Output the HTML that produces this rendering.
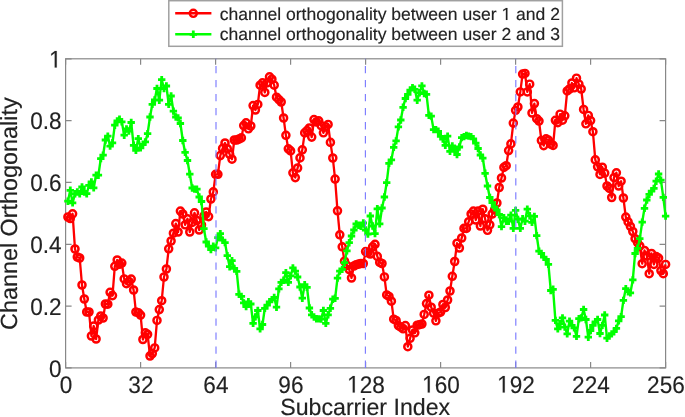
<!DOCTYPE html>
<html><head><meta charset="utf-8"><style>
html,body{margin:0;padding:0;background:#fff;}
svg{display:block;filter:blur(0.55px);}
text{font-family:'Liberation Sans',sans-serif;fill:#222;stroke:#222;stroke-width:0.15px;text-rendering:geometricPrecision;}
.one{fill:#222;stroke:#222;stroke-width:13;}
</style></head><body>
<svg width="685" height="417" viewBox="0 0 685 417">
<rect x="0" y="0" width="685" height="417" fill="#fff"/>

<rect x="65.6" y="58.8" width="600.0" height="309.09999999999997" fill="none" stroke="#888" stroke-width="1.2"/>
<path d="M65.6,367.9v-6M65.6,58.8v6M140.6,367.9v-6M140.6,58.8v6M215.6,367.9v-6M215.6,58.8v6M290.6,367.9v-6M290.6,58.8v6M365.6,367.9v-6M365.6,58.8v6M440.6,367.9v-6M440.6,58.8v6M515.6,367.9v-6M515.6,58.8v6M590.6,367.9v-6M590.6,58.8v6M665.6,367.9v-6M665.6,58.8v6M65.6,367.9h6M665.6,367.9h-6M65.6,306.1h6M665.6,306.1h-6M65.6,244.3h6M665.6,244.3h-6M65.6,182.4h6M665.6,182.4h-6M65.6,120.6h6M665.6,120.6h-6M65.6,58.8h6M665.6,58.8h-6" stroke="#888" stroke-width="1.2" fill="none"/>
<polyline points="67.9,217 70.3,218.5 72.6,213.8 75,249 77.3,257 79.7,258 82,285 84.3,299 86.7,312 89,312 91.4,336 93.7,326 96.1,339 98.4,320 100.8,316 103.1,318 105.4,304 107.8,304.2 110.1,292.3 112.5,295.6 114.8,266.3 117.2,260 119.5,264.3 121.8,263.1 124.2,278.9 126.5,283.7 128.9,281.4 131.2,279.1 133.6,290 135.9,312 138.3,312.7 140.6,315.1 142.9,339.5 145.3,332.8 147.6,334.3 150,356 152.3,353.5 154.7,347.9 157,320.4 159.3,309.6 161.7,300.7 164,277 166.4,269 168.7,248.8 171.1,241 173.4,233.2 175.8,223.6 178.1,232 180.4,211.1 182.8,214 185.1,224.8 187.5,218.8 189.8,232 192.2,222.4 194.5,212.8 196.8,220.5 199.2,230 201.5,225 203.9,216 206.2,212 208.6,216.6 210.9,199 213.3,191.9 215.6,174.3 217.9,174.3 220.3,155.6 222.6,148.4 225,143 227.3,148.7 229.7,154.4 232,159.2 234.3,140 236.7,140 239,139 241.4,137.9 243.7,125.6 246.1,122.8 248.4,128.8 250.8,126 253.1,105.6 255.4,110 257.8,104.4 260.1,85.2 262.5,82.8 264.8,92.4 267.2,82.8 269.5,76.8 271.9,79.2 274.2,85.2 276.5,97.2 278.9,99.6 281.2,102 283.6,118 285.9,135.3 288.3,148.8 290.6,150.9 292.9,172.8 295.3,177.6 297.6,168 300,157.9 302.3,149.8 304.7,132.9 307,130.6 309.4,128 311.7,137.1 314,119.6 316.4,122 318.7,120.8 321.1,125.6 323.4,132.8 325.8,126.8 328.1,124.4 330.4,142.4 332.8,158 335.1,179.1 337.5,210.8 339.8,234.8 342.2,246.8 344.5,261.2 346.9,265.4 349.2,269.5 351.5,278 353.9,266 356.2,264.7 358.6,264.1 360.9,263.5 363.3,263.5 365.6,251.6 367.9,252.8 370.3,254 372.6,246.8 375,244.4 377.3,256.4 379.7,262.4 382,263.5 384.4,276.9 386.7,294.9 389,296.4 391.4,301.2 393.7,319.2 396.1,320.4 398.4,325.6 400.8,327.2 403.1,328.8 405.4,325.6 407.8,346.7 410.1,338.3 412.5,330 414.8,332.8 417.2,325.2 419.5,324.7 421.9,324 424.2,314.4 426.5,303.6 428.9,295.2 431.2,307.2 433.6,313.2 435.9,320.8 438.3,313.2 440.6,312 442.9,304.5 445.3,307.5 447.6,300 450,291 452.3,276.3 454.7,261.5 457,243.2 459.4,248 461.7,238 464,228.4 466.4,228.4 468.7,221.7 471.1,214 473.4,211.1 475.8,220 478.1,211.1 480.4,226 482.8,209.2 485.1,218.8 487.5,230.3 489.8,224.8 492.2,214 494.5,210 496.9,203 499.2,187.5 501.5,178 503.9,167.4 506.2,165.7 508.6,150.6 510.9,143.9 513.3,123.1 515.6,110.3 517.9,107 520.3,91.9 522.6,74.1 525,73.4 527.3,91.9 529.7,84.2 532,113 534.4,103.6 536.7,118.7 539,121.1 541.4,140.5 543.7,145.6 546.1,138.9 548.4,140.1 550.8,144.1 553.1,145.4 555.4,120.3 557.8,122.6 560.1,114.2 562.5,120.2 564.8,115.8 567.2,90.9 569.5,89 571.9,83 574.2,87.8 576.5,78.2 578.9,84.2 581.2,89 583.6,109.4 585.9,123.8 588.3,115.4 590.6,120.6 592.9,131.7 595.3,159.9 597.6,166.8 600,174.4 602.3,167.2 604.7,173.1 607,186 609.4,188.4 611.7,197.5 614,177.6 616.4,172.8 618.7,186 621.1,181.2 623.4,198 625.8,217.1 628.1,221.9 630.4,226.3 632.8,231.5 635.1,238.7 637.5,242.6 639.8,246 642.2,263.7 644.5,250.5 646.9,256 649.2,273.7 651.5,253.5 653.9,264.4 656.2,256.6 658.6,258.1 660.9,270.6 663.3,273.7 665.6,264.4" fill="none" stroke="#ff0000" stroke-width="2.3" stroke-linejoin="round"/>
<g fill="none" stroke="#ff0000" stroke-width="2.45"><circle cx="67.9" cy="217" r="3.55"/><circle cx="70.3" cy="218.5" r="3.55"/><circle cx="72.6" cy="213.8" r="3.55"/><circle cx="75" cy="249" r="3.55"/><circle cx="77.3" cy="257" r="3.55"/><circle cx="79.7" cy="258" r="3.55"/><circle cx="82" cy="285" r="3.55"/><circle cx="84.3" cy="299" r="3.55"/><circle cx="86.7" cy="312" r="3.55"/><circle cx="89" cy="312" r="3.55"/><circle cx="91.4" cy="336" r="3.55"/><circle cx="93.7" cy="326" r="3.55"/><circle cx="96.1" cy="339" r="3.55"/><circle cx="98.4" cy="320" r="3.55"/><circle cx="100.8" cy="316" r="3.55"/><circle cx="103.1" cy="318" r="3.55"/><circle cx="105.4" cy="304" r="3.55"/><circle cx="107.8" cy="304.2" r="3.55"/><circle cx="110.1" cy="292.3" r="3.55"/><circle cx="112.5" cy="295.6" r="3.55"/><circle cx="114.8" cy="266.3" r="3.55"/><circle cx="117.2" cy="260" r="3.55"/><circle cx="119.5" cy="264.3" r="3.55"/><circle cx="121.8" cy="263.1" r="3.55"/><circle cx="124.2" cy="278.9" r="3.55"/><circle cx="126.5" cy="283.7" r="3.55"/><circle cx="128.9" cy="281.4" r="3.55"/><circle cx="131.2" cy="279.1" r="3.55"/><circle cx="133.6" cy="290" r="3.55"/><circle cx="135.9" cy="312" r="3.55"/><circle cx="138.3" cy="312.7" r="3.55"/><circle cx="140.6" cy="315.1" r="3.55"/><circle cx="142.9" cy="339.5" r="3.55"/><circle cx="145.3" cy="332.8" r="3.55"/><circle cx="147.6" cy="334.3" r="3.55"/><circle cx="150" cy="356" r="3.55"/><circle cx="152.3" cy="353.5" r="3.55"/><circle cx="154.7" cy="347.9" r="3.55"/><circle cx="157" cy="320.4" r="3.55"/><circle cx="159.3" cy="309.6" r="3.55"/><circle cx="161.7" cy="300.7" r="3.55"/><circle cx="164" cy="277" r="3.55"/><circle cx="166.4" cy="269" r="3.55"/><circle cx="168.7" cy="248.8" r="3.55"/><circle cx="171.1" cy="241" r="3.55"/><circle cx="173.4" cy="233.2" r="3.55"/><circle cx="175.8" cy="223.6" r="3.55"/><circle cx="178.1" cy="232" r="3.55"/><circle cx="180.4" cy="211.1" r="3.55"/><circle cx="182.8" cy="214" r="3.55"/><circle cx="185.1" cy="224.8" r="3.55"/><circle cx="187.5" cy="218.8" r="3.55"/><circle cx="189.8" cy="232" r="3.55"/><circle cx="192.2" cy="222.4" r="3.55"/><circle cx="194.5" cy="212.8" r="3.55"/><circle cx="196.8" cy="220.5" r="3.55"/><circle cx="199.2" cy="230" r="3.55"/><circle cx="201.5" cy="225" r="3.55"/><circle cx="203.9" cy="216" r="3.55"/><circle cx="206.2" cy="212" r="3.55"/><circle cx="208.6" cy="216.6" r="3.55"/><circle cx="210.9" cy="199" r="3.55"/><circle cx="213.3" cy="191.9" r="3.55"/><circle cx="215.6" cy="174.3" r="3.55"/><circle cx="217.9" cy="174.3" r="3.55"/><circle cx="220.3" cy="155.6" r="3.55"/><circle cx="222.6" cy="148.4" r="3.55"/><circle cx="225" cy="143" r="3.55"/><circle cx="227.3" cy="148.7" r="3.55"/><circle cx="229.7" cy="154.4" r="3.55"/><circle cx="232" cy="159.2" r="3.55"/><circle cx="234.3" cy="140" r="3.55"/><circle cx="236.7" cy="140" r="3.55"/><circle cx="239" cy="139" r="3.55"/><circle cx="241.4" cy="137.9" r="3.55"/><circle cx="243.7" cy="125.6" r="3.55"/><circle cx="246.1" cy="122.8" r="3.55"/><circle cx="248.4" cy="128.8" r="3.55"/><circle cx="250.8" cy="126" r="3.55"/><circle cx="253.1" cy="105.6" r="3.55"/><circle cx="255.4" cy="110" r="3.55"/><circle cx="257.8" cy="104.4" r="3.55"/><circle cx="260.1" cy="85.2" r="3.55"/><circle cx="262.5" cy="82.8" r="3.55"/><circle cx="264.8" cy="92.4" r="3.55"/><circle cx="267.2" cy="82.8" r="3.55"/><circle cx="269.5" cy="76.8" r="3.55"/><circle cx="271.9" cy="79.2" r="3.55"/><circle cx="274.2" cy="85.2" r="3.55"/><circle cx="276.5" cy="97.2" r="3.55"/><circle cx="278.9" cy="99.6" r="3.55"/><circle cx="281.2" cy="102" r="3.55"/><circle cx="283.6" cy="118" r="3.55"/><circle cx="285.9" cy="135.3" r="3.55"/><circle cx="288.3" cy="148.8" r="3.55"/><circle cx="290.6" cy="150.9" r="3.55"/><circle cx="292.9" cy="172.8" r="3.55"/><circle cx="295.3" cy="177.6" r="3.55"/><circle cx="297.6" cy="168" r="3.55"/><circle cx="300" cy="157.9" r="3.55"/><circle cx="302.3" cy="149.8" r="3.55"/><circle cx="304.7" cy="132.9" r="3.55"/><circle cx="307" cy="130.6" r="3.55"/><circle cx="309.4" cy="128" r="3.55"/><circle cx="311.7" cy="137.1" r="3.55"/><circle cx="314" cy="119.6" r="3.55"/><circle cx="316.4" cy="122" r="3.55"/><circle cx="318.7" cy="120.8" r="3.55"/><circle cx="321.1" cy="125.6" r="3.55"/><circle cx="323.4" cy="132.8" r="3.55"/><circle cx="325.8" cy="126.8" r="3.55"/><circle cx="328.1" cy="124.4" r="3.55"/><circle cx="330.4" cy="142.4" r="3.55"/><circle cx="332.8" cy="158" r="3.55"/><circle cx="335.1" cy="179.1" r="3.55"/><circle cx="337.5" cy="210.8" r="3.55"/><circle cx="339.8" cy="234.8" r="3.55"/><circle cx="342.2" cy="246.8" r="3.55"/><circle cx="344.5" cy="261.2" r="3.55"/><circle cx="346.9" cy="265.4" r="3.55"/><circle cx="349.2" cy="269.5" r="3.55"/><circle cx="351.5" cy="278" r="3.55"/><circle cx="353.9" cy="266" r="3.55"/><circle cx="356.2" cy="264.7" r="3.55"/><circle cx="358.6" cy="264.1" r="3.55"/><circle cx="360.9" cy="263.5" r="3.55"/><circle cx="363.3" cy="263.5" r="3.55"/><circle cx="365.6" cy="251.6" r="3.55"/><circle cx="367.9" cy="252.8" r="3.55"/><circle cx="370.3" cy="254" r="3.55"/><circle cx="372.6" cy="246.8" r="3.55"/><circle cx="375" cy="244.4" r="3.55"/><circle cx="377.3" cy="256.4" r="3.55"/><circle cx="379.7" cy="262.4" r="3.55"/><circle cx="382" cy="263.5" r="3.55"/><circle cx="384.4" cy="276.9" r="3.55"/><circle cx="386.7" cy="294.9" r="3.55"/><circle cx="389" cy="296.4" r="3.55"/><circle cx="391.4" cy="301.2" r="3.55"/><circle cx="393.7" cy="319.2" r="3.55"/><circle cx="396.1" cy="320.4" r="3.55"/><circle cx="398.4" cy="325.6" r="3.55"/><circle cx="400.8" cy="327.2" r="3.55"/><circle cx="403.1" cy="328.8" r="3.55"/><circle cx="405.4" cy="325.6" r="3.55"/><circle cx="407.8" cy="346.7" r="3.55"/><circle cx="410.1" cy="338.3" r="3.55"/><circle cx="412.5" cy="330" r="3.55"/><circle cx="414.8" cy="332.8" r="3.55"/><circle cx="417.2" cy="325.2" r="3.55"/><circle cx="419.5" cy="324.7" r="3.55"/><circle cx="421.9" cy="324" r="3.55"/><circle cx="424.2" cy="314.4" r="3.55"/><circle cx="426.5" cy="303.6" r="3.55"/><circle cx="428.9" cy="295.2" r="3.55"/><circle cx="431.2" cy="307.2" r="3.55"/><circle cx="433.6" cy="313.2" r="3.55"/><circle cx="435.9" cy="320.8" r="3.55"/><circle cx="438.3" cy="313.2" r="3.55"/><circle cx="440.6" cy="312" r="3.55"/><circle cx="442.9" cy="304.5" r="3.55"/><circle cx="445.3" cy="307.5" r="3.55"/><circle cx="447.6" cy="300" r="3.55"/><circle cx="450" cy="291" r="3.55"/><circle cx="452.3" cy="276.3" r="3.55"/><circle cx="454.7" cy="261.5" r="3.55"/><circle cx="457" cy="243.2" r="3.55"/><circle cx="459.4" cy="248" r="3.55"/><circle cx="461.7" cy="238" r="3.55"/><circle cx="464" cy="228.4" r="3.55"/><circle cx="466.4" cy="228.4" r="3.55"/><circle cx="468.7" cy="221.7" r="3.55"/><circle cx="471.1" cy="214" r="3.55"/><circle cx="473.4" cy="211.1" r="3.55"/><circle cx="475.8" cy="220" r="3.55"/><circle cx="478.1" cy="211.1" r="3.55"/><circle cx="480.4" cy="226" r="3.55"/><circle cx="482.8" cy="209.2" r="3.55"/><circle cx="485.1" cy="218.8" r="3.55"/><circle cx="487.5" cy="230.3" r="3.55"/><circle cx="489.8" cy="224.8" r="3.55"/><circle cx="492.2" cy="214" r="3.55"/><circle cx="494.5" cy="210" r="3.55"/><circle cx="496.9" cy="203" r="3.55"/><circle cx="499.2" cy="187.5" r="3.55"/><circle cx="501.5" cy="178" r="3.55"/><circle cx="503.9" cy="167.4" r="3.55"/><circle cx="506.2" cy="165.7" r="3.55"/><circle cx="508.6" cy="150.6" r="3.55"/><circle cx="510.9" cy="143.9" r="3.55"/><circle cx="513.3" cy="123.1" r="3.55"/><circle cx="515.6" cy="110.3" r="3.55"/><circle cx="517.9" cy="107" r="3.55"/><circle cx="520.3" cy="91.9" r="3.55"/><circle cx="522.6" cy="74.1" r="3.55"/><circle cx="525" cy="73.4" r="3.55"/><circle cx="527.3" cy="91.9" r="3.55"/><circle cx="529.7" cy="84.2" r="3.55"/><circle cx="532" cy="113" r="3.55"/><circle cx="534.4" cy="103.6" r="3.55"/><circle cx="536.7" cy="118.7" r="3.55"/><circle cx="539" cy="121.1" r="3.55"/><circle cx="541.4" cy="140.5" r="3.55"/><circle cx="543.7" cy="145.6" r="3.55"/><circle cx="546.1" cy="138.9" r="3.55"/><circle cx="548.4" cy="140.1" r="3.55"/><circle cx="550.8" cy="144.1" r="3.55"/><circle cx="553.1" cy="145.4" r="3.55"/><circle cx="555.4" cy="120.3" r="3.55"/><circle cx="557.8" cy="122.6" r="3.55"/><circle cx="560.1" cy="114.2" r="3.55"/><circle cx="562.5" cy="120.2" r="3.55"/><circle cx="564.8" cy="115.8" r="3.55"/><circle cx="567.2" cy="90.9" r="3.55"/><circle cx="569.5" cy="89" r="3.55"/><circle cx="571.9" cy="83" r="3.55"/><circle cx="574.2" cy="87.8" r="3.55"/><circle cx="576.5" cy="78.2" r="3.55"/><circle cx="578.9" cy="84.2" r="3.55"/><circle cx="581.2" cy="89" r="3.55"/><circle cx="583.6" cy="109.4" r="3.55"/><circle cx="585.9" cy="123.8" r="3.55"/><circle cx="588.3" cy="115.4" r="3.55"/><circle cx="590.6" cy="120.6" r="3.55"/><circle cx="592.9" cy="131.7" r="3.55"/><circle cx="595.3" cy="159.9" r="3.55"/><circle cx="597.6" cy="166.8" r="3.55"/><circle cx="600" cy="174.4" r="3.55"/><circle cx="602.3" cy="167.2" r="3.55"/><circle cx="604.7" cy="173.1" r="3.55"/><circle cx="607" cy="186" r="3.55"/><circle cx="609.4" cy="188.4" r="3.55"/><circle cx="611.7" cy="197.5" r="3.55"/><circle cx="614" cy="177.6" r="3.55"/><circle cx="616.4" cy="172.8" r="3.55"/><circle cx="618.7" cy="186" r="3.55"/><circle cx="621.1" cy="181.2" r="3.55"/><circle cx="623.4" cy="198" r="3.55"/><circle cx="625.8" cy="217.1" r="3.55"/><circle cx="628.1" cy="221.9" r="3.55"/><circle cx="630.4" cy="226.3" r="3.55"/><circle cx="632.8" cy="231.5" r="3.55"/><circle cx="635.1" cy="238.7" r="3.55"/><circle cx="637.5" cy="242.6" r="3.55"/><circle cx="639.8" cy="246" r="3.55"/><circle cx="642.2" cy="263.7" r="3.55"/><circle cx="644.5" cy="250.5" r="3.55"/><circle cx="646.9" cy="256" r="3.55"/><circle cx="649.2" cy="273.7" r="3.55"/><circle cx="651.5" cy="253.5" r="3.55"/><circle cx="653.9" cy="264.4" r="3.55"/><circle cx="656.2" cy="256.6" r="3.55"/><circle cx="658.6" cy="258.1" r="3.55"/><circle cx="660.9" cy="270.6" r="3.55"/><circle cx="663.3" cy="273.7" r="3.55"/><circle cx="665.6" cy="264.4" r="3.55"/></g>
<polyline points="67.9,201.2 70.3,190.3 72.6,202.9 75,193.7 77.3,192 79.7,193.7 82,187 84.3,192 86.7,193.7 89,185.3 91.4,182 93.7,187.8 96.1,175.2 98.4,175.2 100.8,158.6 103.1,155.2 105.4,140 107.8,136.1 110.1,146.1 112.5,142.8 114.8,125.2 117.2,121 119.5,119.3 121.8,121.8 124.2,135.2 126.5,129 128.9,131 131.2,122.5 133.6,145.3 135.9,150.3 138.3,138.6 140.6,147.8 142.9,144.5 145.3,141.9 147.6,133.7 150,117 152.3,104.4 154.7,100 157,88.5 159.3,100.2 161.7,79.7 164,88.5 166.4,86 168.7,104.4 171.1,96 173.4,111.1 175.8,117 178.1,117.9 180.4,123.5 182.8,140.5 185.1,152.4 187.5,160.5 189.8,174.2 192.2,188 194.5,189.1 196.8,189.2 199.2,197 201.5,201.5 203.9,228.6 206.2,242 208.6,246.2 210.9,249.5 213.3,246.1 215.6,247.9 217.9,237.6 220.3,233.6 222.6,240.2 225,242.6 227.3,255.7 229.7,266.7 232,260.6 234.3,268.4 236.7,271.4 239,294.3 241.4,296.4 243.7,302.9 246.1,306.6 248.4,301.8 250.8,304 253.1,323.4 255.4,316.9 257.8,310.5 260.1,328.8 262.5,324.5 264.8,308.3 267.2,305.1 269.5,301.8 271.9,299.6 274.2,297.5 276.5,307.2 278.9,288.9 281.2,282.4 283.6,280.2 285.9,272.7 288.3,282.4 290.6,275.9 292.9,267.9 295.3,271.1 297.6,277 300,287 302.3,298.2 304.7,284.7 307,287.4 309.4,308 311.7,314.8 314,317 316.4,318.7 318.7,318.9 321.1,319.1 323.4,310.5 325.8,323.4 328.1,314.8 330.4,308.3 332.8,299.2 335.1,298.3 337.5,278.1 339.8,271.1 342.2,269.4 344.5,262.7 346.9,250.8 349.2,242.7 351.5,236 353.9,230 356.2,224 358.6,225.2 360.9,226.4 363.3,223 365.6,230 367.9,234 370.3,216 372.6,226 375,233.6 377.3,208.8 379.7,223.9 382,208 384.4,197 386.7,182.6 389,163.3 391.4,159.9 393.7,147.3 396.1,140.9 398.4,126.9 400.8,120 403.1,107.3 405.4,98.5 407.8,94.3 410.1,90.1 412.5,87.6 414.8,89.3 417.2,100.2 419.5,92.7 421.9,85.9 424.2,93.5 426.5,94.3 428.9,115.3 431.2,116.1 433.6,129.6 435.9,129.6 438.3,131.3 440.6,136.4 442.9,139 445.3,145.4 447.6,136.2 450,151.3 452.3,145.9 454.7,150 457,154.5 459.4,147 461.7,137.6 464,136.6 466.4,135.5 468.7,136.1 471.1,136.6 473.4,138.8 475.8,143.1 478.1,148.5 480.4,155 482.8,158.2 485.1,173.3 487.5,186 489.8,197.5 492.2,202.6 494.5,207 496.9,210 499.2,214.5 501.5,226.6 503.9,217.6 506.2,221.2 508.6,221.2 510.9,215.2 513.3,228.4 515.6,210.4 517.9,219.4 520.3,228.4 522.6,218.8 525,221.2 527.3,209.2 529.7,215.8 532,222.4 534.4,216.4 536.7,235.6 539,251.2 541.4,253.5 543.7,257.1 546.1,259.5 548.4,264.3 550.8,290.5 553.1,289.3 555.4,320.4 557.8,328.8 560.1,323.7 562.5,317.9 564.8,327.1 567.2,333.8 569.5,321.2 571.9,325.4 574.2,327.9 576.5,336.3 578.9,318.7 581.2,317.9 583.6,309.5 585.9,319.5 588.3,337.2 590.6,330.5 592.9,325.4 595.3,321.8 597.6,319.5 600,333.5 602.3,325.4 604.7,315 607,338.2 609.4,336 611.7,333.9 614,331.7 616.4,328.4 618.7,320.9 621.1,316.6 623.4,300.4 625.8,288.6 628.1,291.7 630.4,292.8 632.8,279.9 635.1,253.5 637.5,248.3 639.8,238.7 642.2,222.1 644.5,208.3 646.9,200 649.2,194.4 651.5,191.2 653.9,188.4 656.2,181.2 658.6,174 660.9,180.2 663.3,197.4 665.6,216.1" fill="none" stroke="#00ff00" stroke-width="2.4" stroke-linejoin="round"/>
<path d="M64.2,201.2h7.4M67.9,197.5v7.4M66.6,190.3h7.4M70.3,186.6v7.4M68.9,202.9h7.4M72.6,199.2v7.4M71.3,193.7h7.4M75,190v7.4M73.6,192h7.4M77.3,188.3v7.4M76,193.7h7.4M79.7,190v7.4M78.3,187h7.4M82,183.3v7.4M80.6,192h7.4M84.3,188.3v7.4M83,193.7h7.4M86.7,190v7.4M85.3,185.3h7.4M89,181.6v7.4M87.7,182h7.4M91.4,178.3v7.4M90,187.8h7.4M93.7,184.1v7.4M92.4,175.2h7.4M96.1,171.5v7.4M94.7,175.2h7.4M98.4,171.5v7.4M97.1,158.6h7.4M100.8,154.9v7.4M99.4,155.2h7.4M103.1,151.5v7.4M101.7,140h7.4M105.4,136.3v7.4M104.1,136.1h7.4M107.8,132.4v7.4M106.4,146.1h7.4M110.1,142.4v7.4M108.8,142.8h7.4M112.5,139.1v7.4M111.1,125.2h7.4M114.8,121.5v7.4M113.5,121h7.4M117.2,117.3v7.4M115.8,119.3h7.4M119.5,115.6v7.4M118.1,121.8h7.4M121.8,118.1v7.4M120.5,135.2h7.4M124.2,131.5v7.4M122.8,129h7.4M126.5,125.3v7.4M125.2,131h7.4M128.9,127.3v7.4M127.5,122.5h7.4M131.2,118.8v7.4M129.9,145.3h7.4M133.6,141.6v7.4M132.2,150.3h7.4M135.9,146.7v7.4M134.6,138.6h7.4M138.3,134.9v7.4M136.9,147.8h7.4M140.6,144.1v7.4M139.2,144.5h7.4M142.9,140.8v7.4M141.6,141.9h7.4M145.3,138.2v7.4M143.9,133.7h7.4M147.6,130v7.4M146.3,117h7.4M150,113.3v7.4M148.6,104.4h7.4M152.3,100.7v7.4M151,100h7.4M154.7,96.3v7.4M153.3,88.5h7.4M157,84.8v7.4M155.7,100.2h7.4M159.3,96.5v7.4M158,79.7h7.4M161.7,76v7.4M160.3,88.5h7.4M164,84.8v7.4M162.7,86h7.4M166.4,82.3v7.4M165,104.4h7.4M168.7,100.7v7.4M167.4,96h7.4M171.1,92.3v7.4M169.7,111.1h7.4M173.4,107.4v7.4M172.1,117h7.4M175.8,113.3v7.4M174.4,117.9h7.4M178.1,114.2v7.4M176.7,123.5h7.4M180.4,119.8v7.4M179.1,140.5h7.4M182.8,136.8v7.4M181.4,152.4h7.4M185.1,148.7v7.4M183.8,160.5h7.4M187.5,156.8v7.4M186.1,174.2h7.4M189.8,170.6v7.4M188.5,188h7.4M192.2,184.3v7.4M190.8,189.1h7.4M194.5,185.4v7.4M193.2,189.2h7.4M196.8,185.5v7.4M195.5,197h7.4M199.2,193.3v7.4M197.8,201.5h7.4M201.5,197.8v7.4M200.2,228.6h7.4M203.9,224.9v7.4M202.5,242h7.4M206.2,238.3v7.4M204.9,246.2h7.4M208.6,242.5v7.4M207.2,249.5h7.4M210.9,245.8v7.4M209.6,246.1h7.4M213.3,242.4v7.4M211.9,247.9h7.4M215.6,244.2v7.4M214.2,237.6h7.4M217.9,233.9v7.4M216.6,233.6h7.4M220.3,229.9v7.4M218.9,240.2h7.4M222.6,236.5v7.4M221.3,242.6h7.4M225,238.9v7.4M223.6,255.7h7.4M227.3,252v7.4M226,266.7h7.4M229.7,263v7.4M228.3,260.6h7.4M232,256.9v7.4M230.7,268.4h7.4M234.3,264.7v7.4M233,271.4h7.4M236.7,267.7v7.4M235.3,294.3h7.4M239,290.6v7.4M237.7,296.4h7.4M241.4,292.7v7.4M240,302.9h7.4M243.7,299.2v7.4M242.4,306.6h7.4M246.1,302.9v7.4M244.7,301.8h7.4M248.4,298.1v7.4M247.1,304h7.4M250.8,300.3v7.4M249.4,323.4h7.4M253.1,319.7v7.4M251.7,316.9h7.4M255.4,313.2v7.4M254.1,310.5h7.4M257.8,306.8v7.4M256.4,328.8h7.4M260.1,325.1v7.4M258.8,324.5h7.4M262.5,320.8v7.4M261.1,308.3h7.4M264.8,304.6v7.4M263.5,305.1h7.4M267.2,301.4v7.4M265.8,301.8h7.4M269.5,298.1v7.4M268.2,299.6h7.4M271.9,295.9v7.4M270.5,297.5h7.4M274.2,293.8v7.4M272.8,307.2h7.4M276.5,303.5v7.4M275.2,288.9h7.4M278.9,285.2v7.4M277.5,282.4h7.4M281.2,278.7v7.4M279.9,280.2h7.4M283.6,276.5v7.4M282.2,272.7h7.4M285.9,269v7.4M284.6,282.4h7.4M288.3,278.7v7.4M286.9,275.9h7.4M290.6,272.2v7.4M289.2,267.9h7.4M292.9,264.2v7.4M291.6,271.1h7.4M295.3,267.4v7.4M293.9,277h7.4M297.6,273.3v7.4M296.3,287h7.4M300,283.3v7.4M298.6,298.2h7.4M302.3,294.5v7.4M301,284.7h7.4M304.7,281v7.4M303.3,287.4h7.4M307,283.7v7.4M305.7,308h7.4M309.4,304.3v7.4M308,314.8h7.4M311.7,311.1v7.4M310.3,317h7.4M314,313.3v7.4M312.7,318.7h7.4M316.4,315v7.4M315,318.9h7.4M318.7,315.2v7.4M317.4,319.1h7.4M321.1,315.4v7.4M319.7,310.5h7.4M323.4,306.8v7.4M322.1,323.4h7.4M325.8,319.7v7.4M324.4,314.8h7.4M328.1,311.1v7.4M326.7,308.3h7.4M330.4,304.6v7.4M329.1,299.2h7.4M332.8,295.5v7.4M331.4,298.3h7.4M335.1,294.6v7.4M333.8,278.1h7.4M337.5,274.4v7.4M336.1,271.1h7.4M339.8,267.4v7.4M338.5,269.4h7.4M342.2,265.7v7.4M340.8,262.7h7.4M344.5,259v7.4M343.2,250.8h7.4M346.9,247.1v7.4M345.5,242.7h7.4M349.2,239v7.4M347.8,236h7.4M351.5,232.3v7.4M350.2,230h7.4M353.9,226.3v7.4M352.5,224h7.4M356.2,220.3v7.4M354.9,225.2h7.4M358.6,221.5v7.4M357.2,226.4h7.4M360.9,222.7v7.4M359.6,223h7.4M363.3,219.3v7.4M361.9,230h7.4M365.6,226.3v7.4M364.2,234h7.4M367.9,230.3v7.4M366.6,216h7.4M370.3,212.3v7.4M368.9,226h7.4M372.6,222.3v7.4M371.3,233.6h7.4M375,229.9v7.4M373.6,208.8h7.4M377.3,205.1v7.4M376,223.9h7.4M379.7,220.2v7.4M378.3,208h7.4M382,204.3v7.4M380.7,197h7.4M384.4,193.3v7.4M383,182.6h7.4M386.7,178.9v7.4M385.3,163.3h7.4M389,159.6v7.4M387.7,159.9h7.4M391.4,156.2v7.4M390,147.3h7.4M393.7,143.6v7.4M392.4,140.9h7.4M396.1,137.2v7.4M394.7,126.9h7.4M398.4,123.2v7.4M397.1,120h7.4M400.8,116.3v7.4M399.4,107.3h7.4M403.1,103.6v7.4M401.7,98.5h7.4M405.4,94.8v7.4M404.1,94.3h7.4M407.8,90.6v7.4M406.4,90.1h7.4M410.1,86.4v7.4M408.8,87.6h7.4M412.5,83.9v7.4M411.1,89.3h7.4M414.8,85.6v7.4M413.5,100.2h7.4M417.2,96.5v7.4M415.8,92.7h7.4M419.5,89v7.4M418.2,85.9h7.4M421.9,82.2v7.4M420.5,93.5h7.4M424.2,89.8v7.4M422.8,94.3h7.4M426.5,90.6v7.4M425.2,115.3h7.4M428.9,111.6v7.4M427.5,116.1h7.4M431.2,112.4v7.4M429.9,129.6h7.4M433.6,125.9v7.4M432.2,129.6h7.4M435.9,125.9v7.4M434.6,131.3h7.4M438.3,127.6v7.4M436.9,136.4h7.4M440.6,132.8v7.4M439.2,139h7.4M442.9,135.3v7.4M441.6,145.4h7.4M445.3,141.7v7.4M443.9,136.2h7.4M447.6,132.5v7.4M446.3,151.3h7.4M450,147.6v7.4M448.6,145.9h7.4M452.3,142.2v7.4M451,150h7.4M454.7,146.3v7.4M453.3,154.5h7.4M457,150.8v7.4M455.7,147h7.4M459.4,143.3v7.4M458,137.6h7.4M461.7,133.9v7.4M460.3,136.6h7.4M464,132.9v7.4M462.7,135.5h7.4M466.4,131.8v7.4M465,136.1h7.4M468.7,132.4v7.4M467.4,136.6h7.4M471.1,132.9v7.4M469.7,138.8h7.4M473.4,135.1v7.4M472.1,143.1h7.4M475.8,139.4v7.4M474.4,148.5h7.4M478.1,144.8v7.4M476.7,155h7.4M480.4,151.3v7.4M479.1,158.2h7.4M482.8,154.5v7.4M481.4,173.3h7.4M485.1,169.6v7.4M483.8,186h7.4M487.5,182.3v7.4M486.1,197.5h7.4M489.8,193.8v7.4M488.5,202.6h7.4M492.2,198.9v7.4M490.8,207h7.4M494.5,203.3v7.4M493.2,210h7.4M496.9,206.3v7.4M495.5,214.5h7.4M499.2,210.8v7.4M497.8,226.6h7.4M501.5,222.9v7.4M500.2,217.6h7.4M503.9,213.9v7.4M502.5,221.2h7.4M506.2,217.5v7.4M504.9,221.2h7.4M508.6,217.5v7.4M507.2,215.2h7.4M510.9,211.5v7.4M509.6,228.4h7.4M513.3,224.7v7.4M511.9,210.4h7.4M515.6,206.7v7.4M514.2,219.4h7.4M517.9,215.7v7.4M516.6,228.4h7.4M520.3,224.7v7.4M518.9,218.8h7.4M522.6,215.1v7.4M521.3,221.2h7.4M525,217.5v7.4M523.6,209.2h7.4M527.3,205.5v7.4M526,215.8h7.4M529.7,212.1v7.4M528.3,222.4h7.4M532,218.7v7.4M530.6,216.4h7.4M534.4,212.7v7.4M533,235.6h7.4M536.7,231.9v7.4M535.3,251.2h7.4M539,247.5v7.4M537.7,253.5h7.4M541.4,249.8v7.4M540,257.1h7.4M543.7,253.4v7.4M542.4,259.5h7.4M546.1,255.8v7.4M544.7,264.3h7.4M548.4,260.6v7.4M547.1,290.5h7.4M550.8,286.8v7.4M549.4,289.3h7.4M553.1,285.6v7.4M551.7,320.4h7.4M555.4,316.7v7.4M554.1,328.8h7.4M557.8,325.1v7.4M556.4,323.7h7.4M560.1,320v7.4M558.8,317.9h7.4M562.5,314.2v7.4M561.1,327.1h7.4M564.8,323.4v7.4M563.5,333.8h7.4M567.2,330.1v7.4M565.8,321.2h7.4M569.5,317.5v7.4M568.1,325.4h7.4M571.9,321.7v7.4M570.5,327.9h7.4M574.2,324.2v7.4M572.8,336.3h7.4M576.5,332.6v7.4M575.2,318.7h7.4M578.9,315v7.4M577.5,317.9h7.4M581.2,314.2v7.4M579.9,309.5h7.4M583.6,305.8v7.4M582.2,319.5h7.4M585.9,315.8v7.4M584.6,337.2h7.4M588.3,333.5v7.4M586.9,330.5h7.4M590.6,326.8v7.4M589.2,325.4h7.4M592.9,321.7v7.4M591.6,321.8h7.4M595.3,318.1v7.4M593.9,319.5h7.4M597.6,315.8v7.4M596.3,333.5h7.4M600,329.8v7.4M598.6,325.4h7.4M602.3,321.7v7.4M601,315h7.4M604.7,311.3v7.4M603.3,338.2h7.4M607,334.5v7.4M605.6,336h7.4M609.4,332.3v7.4M608,333.9h7.4M611.7,330.2v7.4M610.3,331.7h7.4M614,328v7.4M612.7,328.4h7.4M616.4,324.7v7.4M615,320.9h7.4M618.7,317.2v7.4M617.4,316.6h7.4M621.1,312.9v7.4M619.7,300.4h7.4M623.4,296.7v7.4M622.1,288.6h7.4M625.8,284.9v7.4M624.4,291.7h7.4M628.1,288v7.4M626.7,292.8h7.4M630.4,289.1v7.4M629.1,279.9h7.4M632.8,276.2v7.4M631.4,253.5h7.4M635.1,249.8v7.4M633.8,248.3h7.4M637.5,244.6v7.4M636.1,238.7h7.4M639.8,235v7.4M638.5,222.1h7.4M642.2,218.4v7.4M640.8,208.3h7.4M644.5,204.6v7.4M643.1,200h7.4M646.9,196.3v7.4M645.5,194.4h7.4M649.2,190.7v7.4M647.8,191.2h7.4M651.5,187.5v7.4M650.2,188.4h7.4M653.9,184.7v7.4M652.5,181.2h7.4M656.2,177.5v7.4M654.9,174h7.4M658.6,170.3v7.4M657.2,180.2h7.4M660.9,176.5v7.4M659.6,197.4h7.4M663.3,193.7v7.4M661.9,216.1h7.4M665.6,212.4v7.4" fill="none" stroke="#00ff00" stroke-width="2.8"/>
<line x1="216.0" y1="367.9" x2="216.0" y2="58.8" stroke="#7c7cff" stroke-width="1.15" stroke-dasharray="7.3 6.73"/>
<line x1="365.4" y1="367.9" x2="365.4" y2="58.8" stroke="#7c7cff" stroke-width="1.15" stroke-dasharray="7.3 6.73"/>
<line x1="515.8" y1="367.9" x2="515.8" y2="58.8" stroke="#7c7cff" stroke-width="1.15" stroke-dasharray="7.3 6.73"/>
<text transform="translate(59.63,392.6) scale(0.94,1)" font-size="24">0</text>
<text transform="translate(128.35,392.6) scale(0.94,1)" font-size="24">32</text>
<text transform="translate(203.35,392.6) scale(0.94,1)" font-size="24">64</text>
<text transform="translate(278.35,392.6) scale(0.94,1)" font-size="24">96</text>
<path class="one" d="M515,0L515,1237L197,1010L197,1180L530,1409L696,1409L696,0Z" transform="translate(347.08,392.6) scale(0.01102,-0.01172)"/><text transform="translate(359.63,392.6) scale(0.94,1)" font-size="24">28</text>
<path class="one" d="M515,0L515,1237L197,1010L197,1180L530,1409L696,1409L696,0Z" transform="translate(422.08,392.6) scale(0.01102,-0.01172)"/><text transform="translate(434.63,392.6) scale(0.94,1)" font-size="24">60</text>
<path class="one" d="M515,0L515,1237L197,1010L197,1180L530,1409L696,1409L696,0Z" transform="translate(497.08,392.6) scale(0.01102,-0.01172)"/><text transform="translate(509.63,392.6) scale(0.94,1)" font-size="24">92</text>
<text transform="translate(572.08,392.6) scale(0.94,1)" font-size="24">224</text>
<text transform="translate(647.08,392.6) scale(0.94,1)" font-size="24">256</text>
<text transform="translate(49.05,376.6) scale(0.94,1)" font-size="24">0</text>
<text transform="translate(30.24,314.8) scale(0.94,1)" font-size="24">0.2</text>
<text transform="translate(30.24,253) scale(0.94,1)" font-size="24">0.4</text>
<text transform="translate(30.24,191.1) scale(0.94,1)" font-size="24">0.6</text>
<text transform="translate(30.24,129.3) scale(0.94,1)" font-size="24">0.8</text>
<path class="one" d="M515,0L515,1237L197,1010L197,1180L530,1409L696,1409L696,0Z" transform="translate(49.05,67.5) scale(0.01102,-0.01172)"/>
<text x="365.2" y="414.7" font-size="23.4" text-anchor="middle" textLength="170" lengthAdjust="spacingAndGlyphs">Subcarrier Index</text>
<text transform="translate(17.0,213.65) rotate(-90)" x="0" y="0" font-size="23.4" text-anchor="middle" textLength="232.5" lengthAdjust="spacingAndGlyphs">Channel Orthogonality</text>
<rect x="168.8" y="0.7" width="393.6" height="45.6" fill="#fff" stroke="#a0a0a0" stroke-width="1.5"/>
<line x1="175.2" y1="13.3" x2="211.4" y2="13.3" stroke="#ff0000" stroke-width="2.5"/>
<circle cx="193.3" cy="13.3" r="3.55" fill="none" stroke="#ff0000" stroke-width="2.45"/>
<line x1="175.2" y1="34.3" x2="211.4" y2="34.3" stroke="#00ff00" stroke-width="2.5"/>
<path d="M189.6,34.3h7.4M193.3,30.6v7.4" stroke="#00ff00" stroke-width="2.8" fill="none"/>
<text x="219.7" y="19.9" font-size="17.4" textLength="276.91" lengthAdjust="spacingAndGlyphs">channel orthogonality between user</text>
<path class="one" d="M515,0L515,1237L197,1010L197,1180L530,1409L696,1409L696,0Z" transform="translate(501.48,19.9) scale(0.00856,-0.00850)"/>
<text x="516.11" y="19.9" font-size="17.4" textLength="43.89" lengthAdjust="spacingAndGlyphs">and 2</text>
<text x="219.7" y="40.3" font-size="17.4" textLength="340.3" lengthAdjust="spacingAndGlyphs">channel orthogonality between user 2 and 3</text>
</svg></body></html>
